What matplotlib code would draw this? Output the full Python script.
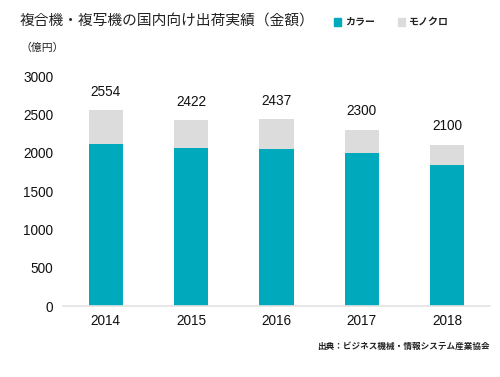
import matplotlib
matplotlib.use("Agg")
import matplotlib.pyplot as plt
import numpy as np

years = ["2014", "2015", "2016", "2017", "2018"]
totals = [2554, 2422, 2437, 2300, 2100]
color_vals = [2120, 2065, 2050, 2000, 1840]
mono_vals = [t - c for t, c in zip(totals, color_vals)]

TEAL = "#00A9BB"
GRAY = "#DCDCDC"
JP = ["Noto Sans CJK JP", "DejaVu Sans"]
NUM = ["Liberation Sans", "Noto Sans CJK JP"]

plt.rcParams['font.family'] = NUM

fig = plt.figure(figsize=(5.0, 3.77), dpi=100)
ax = fig.add_axes([0.126, 0.188, 0.854, 0.61])

x = np.arange(len(years))
ax.bar(x, color_vals, width=0.4, color=TEAL, zorder=2)
ax.bar(x, mono_vals, width=0.4, bottom=color_vals, color=GRAY, zorder=2)

for xi, t in zip(x, totals):
    ax.annotate(str(t), (xi, t), xytext=(0, 8.5), textcoords="offset points",
                ha="center", va="bottom", fontsize=9.8, color="#111111")

ax.set_xlim(-0.5, 4.5)
ax.set_ylim(0, 3000)
ax.set_yticks(range(0, 3001, 500))
ax.set_xticks(x)
ax.set_xticklabels(years)
ax.tick_params(axis="both", length=0, labelsize=9.8, colors="#111111")
ax.tick_params(axis="y", pad=7)
ax.tick_params(axis="x", pad=6)
for s in ["top", "right", "left"]:
    ax.spines[s].set_visible(False)
ax.spines["bottom"].set_color("#E3E3E3")
ax.spines["bottom"].set_linewidth(1.2)

fig.text(0.04, 0.942, "複合機・複写機の国内向け出荷実績（金額）", family=JP,
         fontsize=10.6, color="#222222", va="center", ha="left")

# legend
fig.patches.append(plt.Rectangle((0.667, 0.932), 0.014, 0.019, color=TEAL,
                                 transform=fig.transFigure, figure=fig))
fig.text(0.69, 0.942, "カラー", family=JP, fontsize=7.2, fontweight="bold",
         color="#222222", va="center", ha="left")
fig.patches.append(plt.Rectangle((0.796, 0.932), 0.014, 0.019, color=GRAY,
                                 transform=fig.transFigure, figure=fig))
fig.text(0.818, 0.942, "モノクロ", family=JP, fontsize=7.2, fontweight="bold",
         color="#222222", va="center", ha="left")

fig.text(0.042, 0.872, "（億円）", family=JP, fontsize=7.8, color="#222222",
         va="center", ha="left")

fig.text(0.98, 0.08, "出典：ビジネス機械・情報システム産業協会", family=JP,
         fontsize=6.2, fontweight="bold", color="#222222", va="center", ha="right")

fig.savefig("out.png", dpi=100, facecolor="white")
